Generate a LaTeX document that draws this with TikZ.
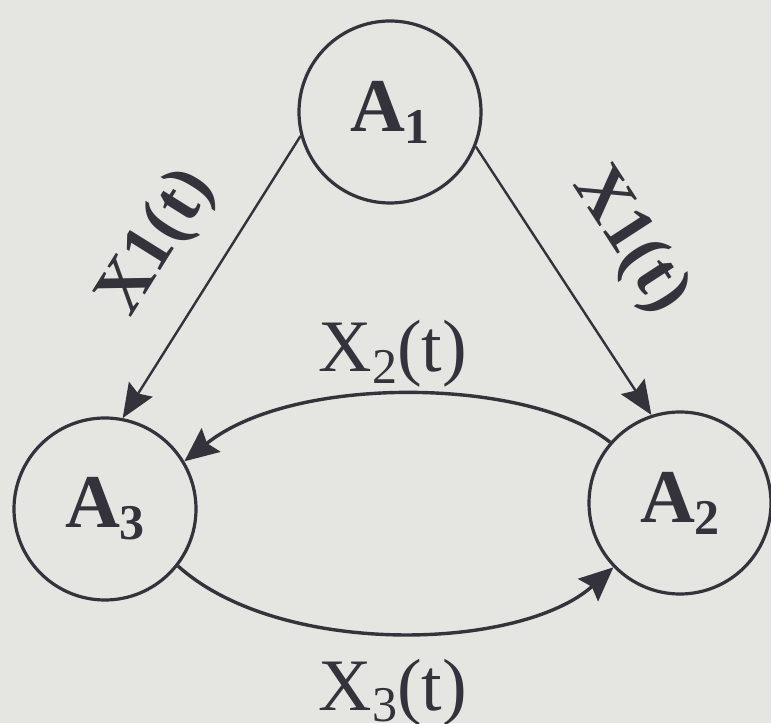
\documentclass[tikz,border=0pt]{standalone}
\usepackage{fontspec}
\setmainfont{Liberation Serif}
\usetikzlibrary{arrows.meta}
\definecolor{bgc}{RGB}{229,229,226}
\definecolor{ink}{RGB}{52,50,58}
\newcommand{\mysub}[1]{\raisebox{-12pt}{\fontsize{50}{60}\selectfont #1}}
\begin{document}
\begin{tikzpicture}[x=1pt,y=1pt,
  state/.style={circle, draw=ink, line width=3.2pt, minimum size=182pt, inner sep=0pt,
    font=\fontsize{76}{90}\selectfont\bfseries, text=ink},
  flow/.style={draw=ink, line width=2.4pt, -{Stealth[length=34pt,width=28pt,inset=5pt]}},
  loopar/.style={draw=ink, line width=3.4pt, -{Stealth[length=34pt,width=30pt,inset=5pt]}},
  lab/.style={text=ink, font=\fontsize{74}{90}\selectfont, inner sep=0pt},
  rlab/.style={text=ink, font=\fontsize{71}{85}\selectfont\bfseries, inner sep=0pt}
]
\useasboundingbox (0,0) rectangle (771,723);
\fill[bgc] (0,0) rectangle (771,723);

\node[state] (A1) at (390,611) {A\mysub{1}};
\node[state] (A3) at (105,214) {A\mysub{3}};
\node[state] (A2) at (680,220) {A\mysub{2}};

\draw[flow] (A1.195) -- (A3.79);
\draw[flow] (A1.338) -- (A2.108);
\draw[loopar] (A2.139) .. controls (530,345) and (295,350) .. (A3.31);
\draw[loopar] (A3.322) .. controls (280,65) and (520,72) .. (A2.224);

\node[rlab, rotate=58] (l13) at (158,480) {X1(t)};
\node[rlab, rotate=-57] (l12) at (630,482) {X1(t)};
\node[lab, anchor=base] (l32) at (393,351) {X\mysub{2}(t)};
\node[lab, anchor=base] (l23) at (393,13) {X\mysub{3}(t)};
\end{tikzpicture}
\end{document}
